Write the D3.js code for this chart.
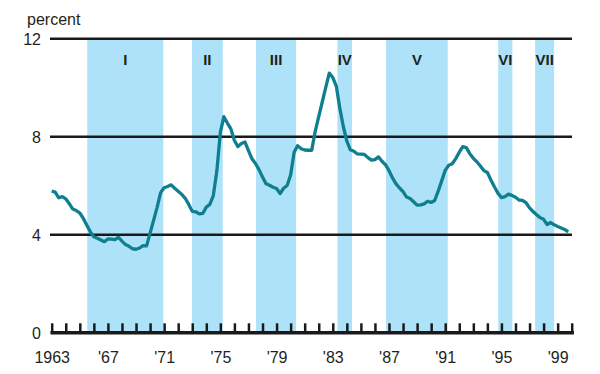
<!DOCTYPE html>
<html>
<head>
<meta charset="utf-8">
<script src="https://cdn.jsdelivr.net/npm/d3@7.9.0/dist/d3.min.js"></script>
<style>
  body { margin: 0; background: #fff; }
  svg text { font-family: "Liberation Sans", Arial, sans-serif; fill: #231f20; }
</style>
</head>
<body>
<svg id="chart" width="600" height="374"></svg>
<script>
// quarterly rate, 1963 Q1 .. 1999 Q4
const startYear = 1963;
const rate = [
  5.77, 5.72, 5.49, 5.54, 5.45, 5.25, 5.03, 4.97, 4.87, 4.65,
  4.37, 4.10, 3.90, 3.84, 3.77, 3.70, 3.81, 3.80, 3.78, 3.88,
  3.72, 3.58, 3.51, 3.41, 3.39, 3.44, 3.54, 3.53, 4.05, 4.57,
  5.10, 5.70, 5.90, 5.95, 6.02, 5.88, 5.76, 5.63, 5.47, 5.22,
  4.94, 4.92, 4.83, 4.85, 5.11, 5.22, 5.58, 6.58, 8.16, 8.80,
  8.54, 8.30, 7.83, 7.58, 7.71, 7.77, 7.42, 7.08, 6.89, 6.64,
  6.34, 6.06, 6.00, 5.92, 5.87, 5.66, 5.88, 5.99, 6.42, 7.35,
  7.62, 7.49, 7.44, 7.43, 7.43, 8.20, 8.80, 9.40, 10.00, 10.58,
  10.40, 10.05, 9.15, 8.40, 7.80, 7.45, 7.39, 7.28, 7.27, 7.26,
  7.13, 7.03, 7.05, 7.16, 6.98, 6.84, 6.60, 6.30, 6.06, 5.89,
  5.74, 5.52, 5.46, 5.33, 5.19, 5.20, 5.24, 5.35, 5.30, 5.38,
  5.76, 6.18, 6.61, 6.82, 6.88, 7.09, 7.35, 7.58, 7.54, 7.29,
  7.10, 6.96, 6.79, 6.60, 6.52, 6.22, 5.94, 5.68, 5.50, 5.54,
  5.64, 5.59, 5.51, 5.40, 5.38, 5.29, 5.08, 4.93, 4.80, 4.68,
  4.61, 4.40, 4.48, 4.39, 4.32, 4.26, 4.20, 4.10
];

// shaded periods
const periodLabels = ["I", "II", "III", "IV", "V", "VI", "VII"];
const periodStart = [1965.53, 1972.98, 1977.54, 1983.33, 1986.79, 1994.77, 1997.40];
const periodEnd   = [1970.94, 1975.17, 1980.39, 1984.37, 1991.18, 1995.78, 1998.75];

const yTicks = [0, 4, 8, 12];
const xTickYears = d3.range(1963, 2001);
const xLabelYears = [1963, 1967, 1971, 1975, 1979, 1983, 1987, 1991, 1995, 1999];

const svg = d3.select('#chart');

const x = d3.scaleLinear().domain([1963, 2000]).range([51.7, 571.7]);
const y = d3.scaleLinear().domain([0, 12]).range([332.3, 38.3]);

// shaded bands
const bands = svg.append('g');
periodLabels.forEach((lab, i) => {
  bands.append('rect')
    .attr('x', x(periodStart[i]))
    .attr('width', x(periodEnd[i]) - x(periodStart[i]))
    .attr('y', y(12))
    .attr('height', y(0) - y(12))
    .attr('fill', '#ade2f9');
  bands.append('text')
    .attr('x', (x(periodStart[i]) + x(periodEnd[i])) / 2)
    .attr('y', 64.5)
    .attr('text-anchor', 'middle')
    .attr('font-size', 15)
    .attr('font-weight', 'bold')
    .text(lab);
});

// y axis with gridlines
const yAxis = d3.axisLeft(y)
  .tickValues(yTicks)
  .tickSizeInner(-(572 - 50))
  .tickSizeOuter(0)
  .tickPadding(9);
const gy = svg.append('g').attr('transform', 'translate(50,0)').call(yAxis);
gy.select('.domain').remove();
gy.selectAll('.tick line').attr('stroke', '#1a1a1a').attr('stroke-width', 2.5);
gy.selectAll('.tick text')
  .attr('font-size', 16)
  .attr('dy', '0.36em')
  .attr('fill', '#231f20');
gy.selectAll('.tick').filter(d => d === 0).select('line').remove();

// series line
const line = d3.line()
  .x((d, i) => x(startYear + i / 4))
  .y(d => y(d));
svg.append('path')
  .datum(rate)
  .attr('d', line)
  .attr('fill', 'none')
  .attr('stroke', '#0f7f8f')
  .attr('stroke-width', 3.3)
  .attr('stroke-linejoin', 'round');

// x axis: ticks point upward
const xAxis = d3.axisBottom(x)
  .tickValues(xTickYears)
  .tickSizeInner(-9)
  .tickSizeOuter(0)
  .tickFormat(d => {
    if (!xLabelYears.includes(d)) return '';
    return d === 1963 ? '1963' : "'" + String(d).slice(2);
  });
const gx = svg.append('g').attr('transform', `translate(0,${y(0)})`).call(xAxis);
gx.select('.domain').attr('stroke', '#1a1a1a').attr('stroke-width', 3.5).attr('stroke-linecap', 'square');
gx.selectAll('.tick line').attr('stroke', '#1a1a1a').attr('stroke-width', 2.5);
gx.selectAll('.tick text')
  .attr('y', 31)
  .attr('dy', 0)
  .attr('font-size', 16)
  .attr('fill', '#231f20');

svg.append('text')
  .attr('x', 27)
  .attr('y', 25)
  .attr('font-size', 16)
  .text('percent');
</script>
</body>
</html>
